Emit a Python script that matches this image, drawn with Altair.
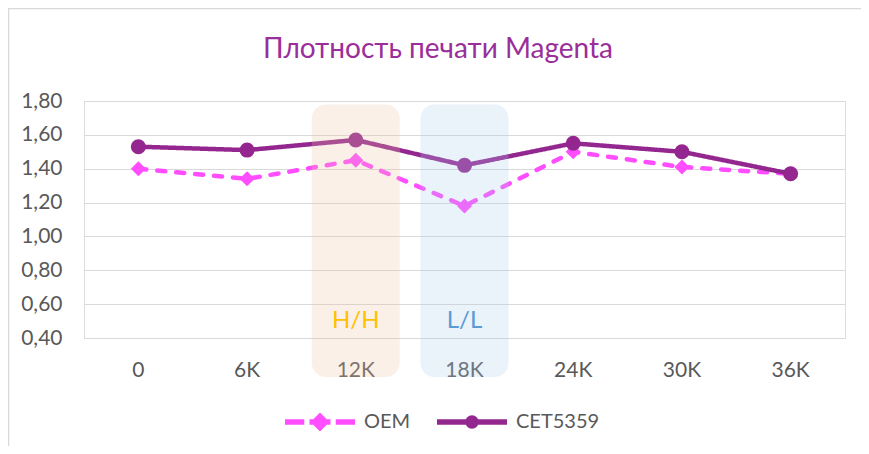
import altair as alt
import pandas as pd

categories = ["0", "6K", "12K", "18K", "24K", "30K", "36K"]
oem_values = [1.40, 1.34, 1.45, 1.18, 1.50, 1.41, 1.37]
cet_values = [1.53, 1.51, 1.57, 1.42, 1.55, 1.50, 1.37]
series_names = ["OEM", "CET5359"]
series_colors = ["#FF4DFF", "#93278F"]
y_ticks = [0.4, 0.6, 0.8, 1.0, 1.2, 1.4, 1.6, 1.8]
chart_title = ["Плотность печати Magenta"]

highlight_cats = ["12K", "18K"]
highlight_labels = ["H/H", "L/L"]
highlight_label_colors = ["#FFC000", "#5B9BD5"]
highlight_fills = ["#EFC3A3", "#ABCBEB"]
highlight_top = [1.78, 1.78]
highlight_bottom = [0.17, 0.17]
highlight_label_y = [0.50, 0.50]

FONT = "Lato"
LABEL_COLOR = "#595959"
GRID_COLOR = "#D9D9D9"

oem_df = pd.DataFrame({"cat": categories, "value": oem_values})
cet_df = pd.DataFrame({"cat": categories, "value": cet_values})
hl_df = pd.DataFrame({
    "cat": highlight_cats, "label": highlight_labels, "lcolor": highlight_label_colors,
    "fill": highlight_fills, "top": highlight_top, "bottom": highlight_bottom,
    "ly": highlight_label_y,
})
legend_df = pd.DataFrame({"series": series_names})
title_df = pd.DataFrame({"t": chart_title})

x_scale = alt.Scale(type="band", domain=categories, paddingInner=0, paddingOuter=0)
y_scale = alt.Scale(domain=[0.4, 1.8], nice=False, zero=False)

x_axis = alt.Axis(title=None, labelAngle=0, ticks=False, domain=False, grid=False,
                  labelPadding=21, labelFontSize=21, labelColor=LABEL_COLOR, labelFont=FONT)
y_axis = alt.Axis(title=None, values=y_ticks, ticks=False, domain=False, grid=True,
                  gridColor=GRID_COLOR, gridWidth=1, labelPadding=22, labelFontSize=21,
                  labelColor=LABEL_COLOR, labelFont=FONT,
                  labelExpr="replace(format(datum.value, '.2f'), '.', ',')")

x_pt = alt.X("cat:N", scale=x_scale, axis=x_axis, bandPosition=0.5, sort=categories)
x_bar = alt.X("cat:N", scale=x_scale, axis=x_axis, sort=categories)
y_val = alt.Y("value:Q", scale=y_scale, axis=y_axis)

def series_layers(df, color, dash, shape):
    line = alt.Chart(df).mark_line(color=color, strokeWidth=4.5, strokeDash=dash,
                                   strokeCap="round" if dash != [1, 0] else "butt").encode(x=x_pt, y=y_val)
    pts = alt.Chart(df).mark_point(color=color, filled=True, opacity=1, shape=shape,
                                   size=225).encode(x=x_pt, y=y_val)
    return [line, pts]

oem_layers = series_layers(oem_df, series_colors[0], [8, 11], "diamond")
cet_layers = series_layers(cet_df, series_colors[1], [1, 0], "circle")

bars = alt.Chart(hl_df).mark_bar(size=88, cornerRadius=14, opacity=0.25).encode(
    x=x_bar,
    y=alt.Y("top:Q", scale=y_scale, axis=y_axis),
    y2="bottom:Q",
    fill=alt.Fill("fill:N", scale=None),
)

hl_text = alt.Chart(hl_df).mark_text(font=FONT, fontSize=24, baseline="middle").encode(
    x=x_pt,
    y=alt.Y("ly:Q", scale=y_scale, axis=y_axis),
    text="label:N",
    fill=alt.Fill("lcolor:N", scale=None),
)

oem_path = ("M-1,-0.08L-0.45,-0.08L-0.45,0.08L-1,0.08Z "
            "M-0.3,-0.08L0.3,-0.08L0.3,0.08L-0.3,0.08Z "
            "M0,-0.27L0.27,0L0,0.27L-0.27,0Z "
            "M0.45,-0.08L1,-0.08L1,0.08L0.45,0.08Z")
cet_path = ("M-1,-0.08L1,-0.08L1,0.08L-1,0.08Z "
            "M-0.19,0A0.19,0.19 0 1,1 0.19,0A0.19,0.19 0 1,1 -0.19,0Z")

leg = alt.Legend(title=None, orient="none", legendX=201, legendY=286, direction="horizontal",
                 symbolSize=4900, symbolStrokeWidth=0, labelFont=FONT, labelFontSize=20,
                 labelColor=LABEL_COLOR, labelOffset=9, columnPadding=26, padding=0)
legend_layer = alt.Chart(legend_df).transform_filter("false").mark_point(filled=True, opacity=1).encode(
    color=alt.Color("series:N", scale=alt.Scale(domain=series_names, range=series_colors), legend=leg),
    shape=alt.Shape("series:N", scale=alt.Scale(domain=series_names, range=[oem_path, cet_path]), legend=leg),
)

title_layer = alt.Chart(title_df).mark_text(font=FONT, fontSize=28, color="#9A2E9A",
                                            align="center", baseline="alphabetic").encode(
    x=alt.value(354), y=alt.value(-43), text="t:N")

border_df = pd.DataFrame({"k": [0]})
border_top = alt.Chart(border_df).mark_rule(color=GRID_COLOR, strokeWidth=1.5).encode(
    x=alt.value(-76), x2=alt.value(777), y=alt.value(-92.5), y2=alt.value(-92.5))
border_left = alt.Chart(border_df).mark_rule(color=GRID_COLOR, strokeWidth=1.5).encode(
    x=alt.value(-75.5), x2=alt.value(-75.5), y=alt.value(-93), y2=alt.value(345))

chart = alt.layer(
    *oem_layers, *cet_layers, bars, hl_text, legend_layer, title_layer, border_top, border_left
).properties(
    width=761, height=237,
    padding={"left": 76, "top": 93, "right": 16, "bottom": 108},
    autosize=alt.AutoSizeParams(type="none"),
).configure_view(stroke=None).configure(background="white")

chart.save("out.html", embed_options={"renderer": "svg", "actions": False})
